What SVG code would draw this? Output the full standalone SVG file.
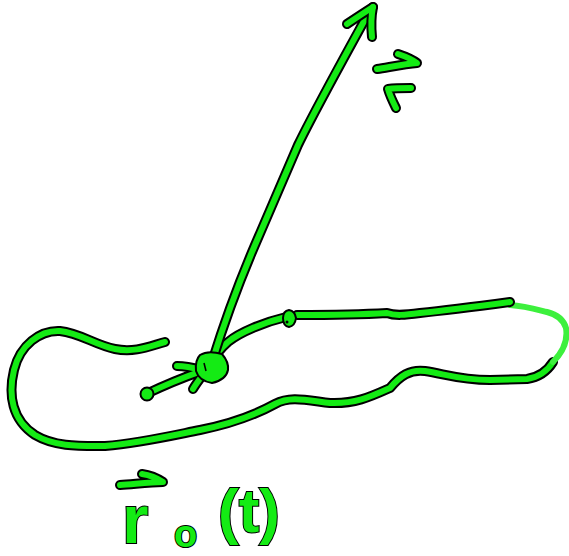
<svg xmlns="http://www.w3.org/2000/svg" xmlns:xlink="http://www.w3.org/1999/xlink" width="569" height="556" viewBox="0 0 569 556">
<style>
.o{fill:none;stroke:#000;stroke-width:10;stroke-linecap:round;stroke-linejoin:round}
.g{fill:none;stroke:#14eb14;stroke-width:6;stroke-linecap:round;stroke-linejoin:round}
.lg{fill:none;stroke:#3df03d;stroke-width:6;stroke-linecap:round;stroke-linejoin:round}
.t{font-family:"Liberation Sans",Arial,sans-serif;font-weight:bold;fill:#14eb14;stroke:#000;stroke-width:2;paint-order:stroke}
</style>
<defs>
<path id="loop" d="M165,342 C150,346 135,353 115,349 C95,345 80,333 60,331 C40,330 20,345 14,370 C8,395 12,420 35,435 C55,447 80,446 105,446 C140,443 170,436 200,430 C230,424 255,415 275,404 C290,396 305,400 330,403 C355,404 370,397 390,388 C400,376 410,369 425,371 C445,374 460,380 490,380 L527,379 C540,377 548,370 553,362"/>
<path id="top" d="M510,302 C480,306 440,311 420,313 C405,315 395,316 387,313 C370,314 330,315 297,315"/>
<path id="toj" d="M286,317 C265,322 240,332 228,342 C220,349 215,356 212,362"/>
<path id="shaft" d="M212,362 C225,320 240,280 255,245 C270,210 285,175 298,145 C315,110 340,65 368,14"/>
<path id="hl" d="M347,24 C356,18 365,12 373,7"/>
<path id="hr" d="M373,7 C371,17 371,27 372,37"/>
<path id="in" d="M146,394 C163,386 182,378 199,372"/>
<path id="b1" d="M177,366 C185,366 194,368 201,370"/>
<path id="b2" d="M193,389 C196,384 199,380 202,376"/>
<path id="va" d="M377,69 C390,67 405,64 417,63 C412,59 404,56 398,54"/>
<path id="ra" d="M120,485 C135,484 150,482 163,482 C157,478 149,475 142,474"/>
<path id="lt" d="M411,88 C403,88 395,88 388,89 C390,96 393,102 396,108"/>
</defs>
<g id="curve">
<use xlink:href="#loop" class="o"/><use xlink:href="#loop" class="g"/>
<path class="lg" d="M553,362 C563,352 568,340 566,328 C563,318 555,314 547,312 C535,309 525,306 510,305"/>
<use xlink:href="#top" class="o"/><use xlink:href="#top" class="g"/>
<use xlink:href="#toj" class="o"/><use xlink:href="#toj" class="g"/>
<path d="M283,318 Q283,311 289,310 Q295,311 296,318 Q295,326 289,327 Q283,326 283,318 Z" fill="#14eb14" stroke="#000" stroke-width="2"/>
<circle cx="287" cy="322" r="1.5" fill="#000"/>
</g>
<g id="connectors">
<use xlink:href="#shaft" class="o"/><use xlink:href="#shaft" class="g"/>
<use xlink:href="#hl" class="o"/><use xlink:href="#hr" class="o"/>
<use xlink:href="#hl" class="g"/><use xlink:href="#hr" class="g"/>
<use xlink:href="#in" class="o"/><use xlink:href="#b1" class="o"/><use xlink:href="#b2" class="o"/>
<use xlink:href="#in" class="g"/><use xlink:href="#b1" class="g"/><use xlink:href="#b2" class="g"/>
<circle cx="147" cy="394" r="6.5" fill="#14eb14" stroke="#000" stroke-width="2"/>
</g>
<g id="point">
<path d="M200,355 Q208,350 222,354 Q229,362 228,370 Q226,380 212,383 Q199,381 196,371 Q195,360 200,355 Z" fill="#14eb14" stroke="#000" stroke-width="2" stroke-linejoin="round"/>
<path d="M204,363 L206,371" stroke="#000" stroke-width="1.5" fill="none"/>
</g>
<g id="label-v">
<use xlink:href="#va" class="o"/><use xlink:href="#va" class="g"/>
<use xlink:href="#lt" class="o"/><use xlink:href="#lt" class="g"/>
</g>
<g id="label-r">
<use xlink:href="#ra" class="o"/><use xlink:href="#ra" class="g"/>
<text class="t" x="122" y="543" font-size="68">r</text>
<text class="t" x="174" y="547" font-size="38">o</text>
<text class="t" x="218" y="532" font-size="62">(t)</text>
</g>
</svg>
